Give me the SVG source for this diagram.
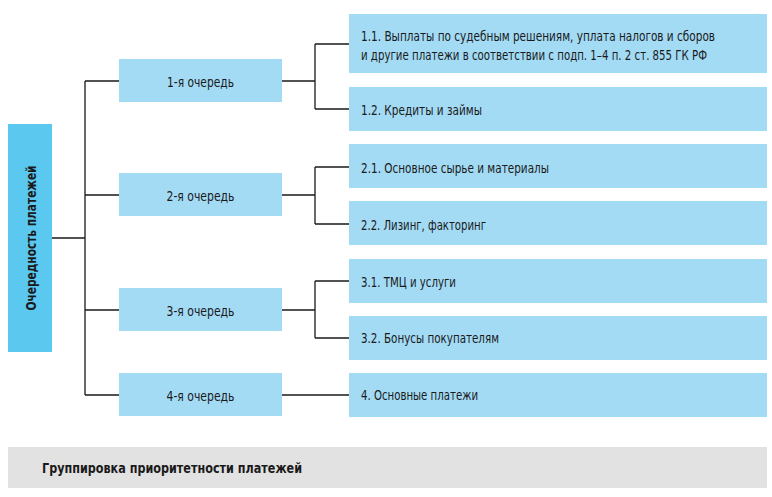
<svg xmlns="http://www.w3.org/2000/svg" width="772" height="497" viewBox="0 0 772 497">
<style>
.box{fill:#a3dbf5}
.root{fill:#5bc8f0}
.cap{fill:#e2e2e2}
.t{font-family:"Liberation Sans Narrow","DejaVu Sans Condensed","Liberation Sans",sans-serif;font-size:14.5px;fill:#1a1a1a}
.c{text-anchor:middle}
.b{font-weight:bold}
.ln{stroke:#1a1a1a;stroke-width:1.3;fill:none}
</style>
<rect width="772" height="497" fill="#ffffff"/>
<g id="connectors">
<path class="ln" d="M52 238H85M85 81V395M85 81H119M85 195H119M85 310H119M85 395H119"/>
<path class="ln" d="M282 81H315M315 44V109M315 44H349M315 109H349"/>
<path class="ln" d="M282 195H315M315 167V224M315 167H349M315 224H349"/>
<path class="ln" d="M282 310H315M315 281V338M315 281H349M315 338H349"/>
<path class="ln" d="M282 395H349"/>
</g>
<g id="root">
<rect class="root" x="8" y="124" width="44" height="228"/>
<text class="t b c" transform="translate(35.5 238) rotate(-90)" textLength="145" lengthAdjust="spacingAndGlyphs">Очередность платежей</text>
</g>
<g id="q1">
<rect class="box" x="119" y="59" width="163" height="43"/>
<text class="t c" x="200.5" y="86.5" textLength="67" lengthAdjust="spacingAndGlyphs">1-я очередь</text>
</g>
<g id="q2">
<rect class="box" x="119" y="173" width="163" height="43"/>
<text class="t c" x="200.5" y="200.5" textLength="68" lengthAdjust="spacingAndGlyphs">2-я очередь</text>
</g>
<g id="q3">
<rect class="box" x="119" y="288" width="163" height="43"/>
<text class="t c" x="200.5" y="315.5" textLength="68" lengthAdjust="spacingAndGlyphs">3-я очередь</text>
</g>
<g id="q4">
<rect class="box" x="119" y="373" width="163" height="43"/>
<text class="t c" x="200.5" y="400.5" textLength="68" lengthAdjust="spacingAndGlyphs">4-я очередь</text>
</g>
<g id="n11">
<rect class="box" x="349" y="14" width="418" height="59"/>
<text class="t" x="361" y="41" textLength="354" lengthAdjust="spacingAndGlyphs">1.1. Выплаты по судебным решениям, уплата налогов и сборов</text>
<text class="t" x="361" y="60" textLength="346" lengthAdjust="spacingAndGlyphs">и другие платежи в соответствии с подп. 1–4 п. 2 ст. 855 ГК РФ</text>
</g>
<g id="n12">
<rect class="box" x="349" y="87" width="418" height="44"/>
<text class="t" x="361" y="115" textLength="121" lengthAdjust="spacingAndGlyphs">1.2. Кредиты и займы</text>
</g>
<g id="n21">
<rect class="box" x="349" y="144" width="418" height="44"/>
<text class="t" x="361" y="173" textLength="188" lengthAdjust="spacingAndGlyphs">2.1. Основное сырье и материалы</text>
</g>
<g id="n22">
<rect class="box" x="349" y="201" width="418" height="44"/>
<text class="t" x="361" y="230" textLength="125" lengthAdjust="spacingAndGlyphs">2.2. Лизинг, факторинг</text>
</g>
<g id="n31">
<rect class="box" x="349" y="259" width="418" height="44"/>
<text class="t" x="361" y="287" textLength="95" lengthAdjust="spacingAndGlyphs">3.1. ТМЦ и услуги</text>
</g>
<g id="n32">
<rect class="box" x="349" y="316" width="418" height="44"/>
<text class="t" x="361" y="343" textLength="138" lengthAdjust="spacingAndGlyphs">3.2. Бонусы покупателям</text>
</g>
<g id="n4">
<rect class="box" x="349" y="373" width="418" height="44"/>
<text class="t" x="361" y="400" textLength="117" lengthAdjust="spacingAndGlyphs">4. Основные платежи</text>
</g>
<g id="caption">
<rect class="cap" x="8" y="447" width="759" height="41"/>
<text class="t" x="42" y="473" textLength="260" lengthAdjust="spacingAndGlyphs" style="font-weight:600">Группировка приоритетности платежей</text>
</g>
</svg>
